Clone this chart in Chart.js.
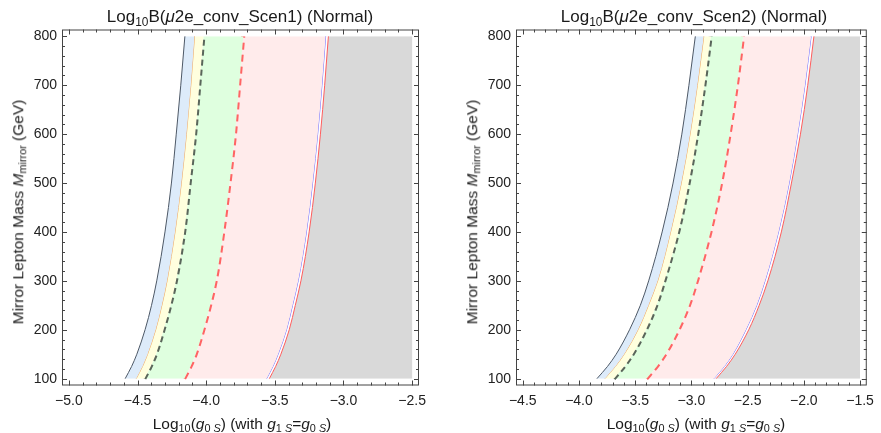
<!DOCTYPE html>
<html>
<head>
<meta charset="utf-8">
<script src="https://cdn.jsdelivr.net/npm/chart.js@4.4.1/dist/chart.umd.min.js"></script>
<style>
  body { margin: 0; background: #fff; font-family: "Liberation Sans", Arial, sans-serif; }
  .panel { position: absolute; top: 0; height: 433px; }
  .panel canvas { position: absolute; left: 0; top: 0; }
  .txt { position: absolute; white-space: nowrap; color: #1a1a1a; line-height: 1; }
  .title { font-size: 17px; top: 7.5px; transform: translateX(-50%); }
  .xlab { font-size: 15.5px; top: 416px; transform: translateX(-50%); }
  .ylab { font-size: 15.5px; top: 212px; transform: translate(-50%, -50%) rotate(-90deg); }
  sub { font-size: 70%; vertical-align: -0.3em; line-height: 0; }
</style>
</head>
<body>
<div class="panel" style="left:0;width:440px">
  <canvas id="scen1" width="440" height="433"></canvas>
  <div class="txt title" style="left:240px">Log<sub>10</sub>B(<i>μ</i>2e_conv_Scen1) (Normal)</div>
  <div class="txt xlab" style="left:242px">Log<sub>10</sub>(<i>g</i><sub>0 <i>S</i></sub>) (with <i>g</i><sub>1 <i>S</i></sub>=<i>g</i><sub>0 <i>S</i></sub>)</div>
  <div class="txt ylab" style="left:18px">Mirror Lepton Mass <i>M</i><sub>mirror</sub> (GeV)</div>
</div>
<div class="panel" style="left:440px;width:441px">
  <canvas id="scen2" width="441" height="433"></canvas>
  <div class="txt title" style="left:254px">Log<sub>10</sub>B(<i>μ</i>2e_conv_Scen2) (Normal)</div>
  <div class="txt xlab" style="left:256px">Log<sub>10</sub>(<i>g</i><sub>0 <i>S</i></sub>) (with <i>g</i><sub>1 <i>S</i></sub>=<i>g</i><sub>0 <i>S</i></sub>)</div>
  <div class="txt ylab" style="left:32px">Mirror Lepton Mass <i>M</i><sub>mirror</sub> (GeV)</div>
</div>
<script>
// mirror lepton mass (GeV) at which each boundary was read
const massValues = [100, 125, 150, 200, 250, 300, 400, 500, 600, 700, 800];
const massTicks = [100, 200, 300, 400, 500, 600, 700, 800];

// Scen1: Log10(g0S) of each contour
const s1Outer   = [-4.59, -4.543, -4.505, -4.445, -4.398, -4.36, -4.30, -4.253, -4.218, -4.185, -4.155];
const s1Orange  = [-4.51, -4.464, -4.427, -4.368, -4.323, -4.285, -4.227, -4.181, -4.144, -4.112, -4.085];
const s1Dashed  = [-4.45, -4.404, -4.366, -4.31, -4.261, -4.22, -4.16, -4.12, -4.08, -4.05, -4.02];
const s1RedDash = [-4.16, -4.114, -4.076, -4.02, -3.971, -3.93, -3.875, -3.83, -3.79, -3.76, -3.73];
const s1Blue    = [-3.56, -3.514, -3.476, -3.415, -3.371, -3.33, -3.27, -3.225, -3.188, -3.157, -3.13];
const s1Red     = [-3.54, -3.494, -3.456, -3.395, -3.351, -3.31, -3.25, -3.205, -3.168, -3.137, -3.11];
const s1Edge = -2.5;
const s1XTicks = [-5.0, -4.5, -4.0, -3.5, -3.0, -2.5];

// Scen2
const s2Outer   = [-3.84, -3.746, -3.669, -3.55, -3.454, -3.38, -3.26, -3.163, -3.085, -3.022, -2.965];
const s2Orange  = [-3.77, -3.676, -3.598, -3.475, -3.382, -3.30, -3.185, -3.09, -3.012, -2.947, -2.89];
const s2Dashed  = [-3.69, -3.598, -3.522, -3.405, -3.311, -3.24, -3.117, -3.024, -2.948, -2.884, -2.828];
const s2RedDash = [-3.40, -3.308, -3.232, -3.115, -3.021, -2.95, -2.83, -2.735, -2.66, -2.595, -2.54];
const s2Blue    = [-2.80, -2.707, -2.631, -2.515, -2.419, -2.345, -2.225, -2.13, -2.055, -1.99, -1.935];
const s2Red     = [-2.78, -2.687, -2.610, -2.49, -2.397, -2.32, -2.20, -2.11, -2.03, -1.965, -1.91];
const s2Edge = -1.5;
const s2XTicks = [-4.5, -4.0, -3.5, -3.0, -2.5, -2.0, -1.5];

const tickFont = { family: '"Liberation Sans", Arial, sans-serif', size: 14 };

function curve(xs, color, width, dash, fillColor) {
  return {
    data: xs.map((x, i) => ({ x: x, y: massValues[i] })),
    borderColor: color,
    borderWidth: width,
    borderDash: dash || [],
    borderCapStyle: 'butt',
    backgroundColor: fillColor || 'transparent',
    fill: fillColor ? '+1' : false,
    pointRadius: 0,
    cubicInterpolationMode: 'monotone'
  };
}

function edge(x) {
  return {
    data: [{ x: x, y: massValues[0] }, { x: x, y: massValues[massValues.length - 1] }],
    borderWidth: 0,
    borderColor: 'transparent',
    pointRadius: 0,
    fill: false
  };
}

function fmt(v) {
  return (v < 0 ? '\u2212' : '') + Math.abs(v).toFixed(1);
}

// Mathematica-like frame with inward ticks on all four sides
const framePlugin = {
  id: 'frame',
  afterDraw(chart) {
    const { ctx, chartArea: a, scales: { x, y } } = chart;
    ctx.save();
    ctx.strokeStyle = '#444';
    ctx.lineWidth = 1;
    ctx.strokeRect(a.left + 0.5, a.top + 0.5, a.right - a.left - 1, a.bottom - a.top - 1);
    ctx.beginPath();
    const step = 0.1;
    for (let v = Math.ceil(x.min / step) * step; v <= x.max + 1e-9; v += step) {
      const major = Math.abs(v * 2 - Math.round(v * 2)) < 1e-6;
      const len = major ? 5 : 3;
      const px = Math.round(x.getPixelForValue(v)) + 0.5;
      ctx.moveTo(px, a.bottom); ctx.lineTo(px, a.bottom - len);
      ctx.moveTo(px, a.top); ctx.lineTo(px, a.top + len);
    }
    for (let v = Math.ceil(y.min / 20) * 20; v <= y.max; v += 20) {
      const len = v % 100 === 0 ? 5 : 3;
      const py = Math.round(y.getPixelForValue(v)) + 0.5;
      ctx.moveTo(a.left, py); ctx.lineTo(a.left + len, py);
      ctx.moveTo(a.right, py); ctx.lineTo(a.right - len, py);
    }
    ctx.stroke();
    ctx.restore();
  }
};

function makeChart(id, cols, xTicks, xMin, xMax, yWidth, padRight) {
  const [outer, orange, dashed, redDash, blue, red, edgeX] = cols;
  new Chart(document.getElementById(id), {
    type: 'line',
    data: {
      datasets: [
        curve(outer, '#4d5866', 1, null, 'rgba(221,235,250,1)'),
        curve(orange, '#f2a65a', 1, null, 'rgba(255,255,222,1)'),
        curve(dashed, '#5a665b', 4, [6, 4], 'rgba(223,255,223,1)'),
        curve(redDash, '#ff6464', 4, [7, 5], 'rgba(255,235,235,1)'),
        curve(blue, '#6f6fff', 1, null, null),
        curve(red, '#ff5c5c', 1, null, 'rgba(217,217,217,1)'),
        edge(edgeX)
      ]
    },
    options: {
      indexAxis: 'y',
      responsive: false,
      animation: false,
      layout: { padding: { top: 29.5, right: padRight, left: 0, bottom: 0 } },
      plugins: { legend: { display: false }, tooltip: { enabled: false } },
      scales: {
        x: {
          type: 'linear', min: xMin, max: xMax,
          afterBuildTicks: s => { s.ticks = xTicks.map(v => ({ value: v })); },
          afterFit: s => { s.height = 47.5; },
          ticks: { callback: fmt, font: tickFont, color: '#222', padding: 7, maxRotation: 0, autoSkip: false },
          grid: { display: false, drawTicks: false },
          border: { display: false }
        },
        y: {
          type: 'linear', min: 86, max: 814,
          afterBuildTicks: s => { s.ticks = massTicks.map(v => ({ value: v })); },
          afterFit: s => { s.width = yWidth; },
          ticks: { font: tickFont, color: '#222', padding: 5, autoSkip: false },
          grid: { display: false, drawTicks: false },
          border: { display: false }
        }
      }
    },
    plugins: [framePlugin]
  });
}

makeChart('scen1', [s1Outer, s1Orange, s1Dashed, s1RedDash, s1Blue, s1Red, s1Edge], s1XTicks, -5.05, -2.45, 62, 21);
makeChart('scen2', [s2Outer, s2Orange, s2Dashed, s2RedDash, s2Blue, s2Red, s2Edge], s2XTicks, -4.56, -1.44, 76, 8);
</script>
</body>
</html>
